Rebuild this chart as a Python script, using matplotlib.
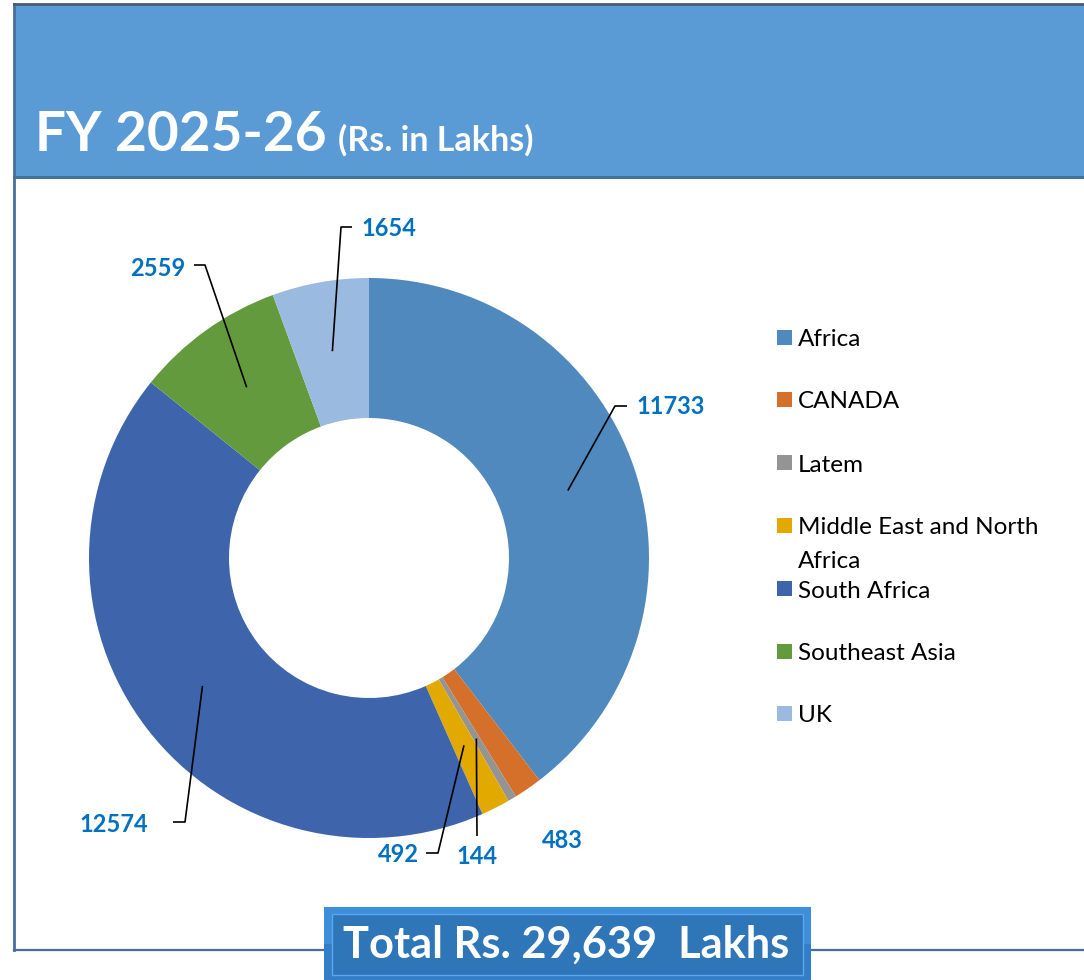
import matplotlib
matplotlib.use("Agg")
import matplotlib.pyplot as plt
import matplotlib.patches as mpatches
import numpy as np

# ---- data ----
categories = ["Africa", "CANADA", "Latem", "Middle East and North Africa",
              "South Africa", "Southeast Asia", "UK"]
legend_labels = ["Africa", "CANADA", "Latem", "Middle East and North\nAfrica",
                 "South Africa", "Southeast Asia", "UK"]
values = [11733, 483, 144, 492, 12574, 2559, 1654]
colors = ["#4F89BD", "#D5702B", "#949494", "#E2AA00", "#3E64AC", "#629A3D", "#9ABAE0"]
title_main = "FY 2025-26"
title_sub = "(Rs. in Lakhs)"
total_text = "Total Rs. 29,639  Lakhs"

FONT = ["Lato", "DejaVu Sans"]
plt.rcParams["font.family"] = FONT

W, H = 1084, 980
fig = plt.figure(figsize=(W / 100, H / 100), dpi=100)
ax = fig.add_axes([0, 0, 1, 1])

def Y(y):  # image y (top-down) -> data y (bottom-up)
    return H - y

# ---- frame & header ----
ax.add_patch(mpatches.Rectangle((14, Y(177)), W - 14, 173, facecolor="#5B9BD5",
                                edgecolor="none", zorder=1))
ax.plot([14, W], [Y(177), Y(177)], color="#41719C", lw=2.2, zorder=2)
ax.plot([14, 14], [Y(4), Y(950)], color="#4A6E9A", lw=2, zorder=2)
ax.plot([14, W], [Y(4), Y(4)], color="#4A5A70", lw=2, zorder=2)
ax.plot([14, W], [Y(950), Y(950)], color="#4A6E9A", lw=1.6, zorder=2)

ax.text(35, Y(151), title_main, color="white", fontsize=39.5, fontweight="bold",
        va="baseline", ha="left", zorder=3)
ax.text(338, Y(151), title_sub, color="white", fontsize=24.5, fontweight="bold",
        va="baseline", ha="left", zorder=3)

# ---- donut ----
cx, cy, R = 369, Y(558), 280
wedges, _ = ax.pie(values, colors=colors, startangle=90, counterclock=False,
                   radius=R, center=(cx, cy),
                   wedgeprops=dict(width=R * 0.5, edgecolor="none"))
for w in wedges:
    w.set_zorder(3)

# data labels with leader lines: label anchor, elbow, end of horizontal tick (image px)
label_pos = {
    "Africa": ((636, 407), (615, 406), (627, 406), "left"),
    "CANADA": ((562, 840), None, None, "center"),
    "Latem": ((477, 857), (477, 836), None, "center"),
    "Middle East and North Africa": ((419, 855), (438, 853), (426, 853), "right"),
    "South Africa": ((148, 825), (185, 822), (173, 822), "right"),
    "Southeast Asia": ((185, 269), (205, 265), (194, 265), "right"),
    "UK": ((361, 228), (341, 227), (352, 227), "left"),
}
total = sum(values)
cum = 0
for name, v in zip(categories, values):
    mid = 90 - 360 * (cum + v / 2) / total
    cum += v
    (lx, ly), elbow, end, ha = label_pos[name]
    sx = cx + 0.75 * R * np.cos(np.radians(mid))
    sy = cy + 0.75 * R * np.sin(np.radians(mid))
    if elbow is not None:
        xs = [sx, elbow[0]]
        ys = [sy, Y(elbow[1])]
        if end is not None:
            xs.append(end[0]); ys.append(Y(end[1]))
        ax.plot(xs, ys, color="black", lw=1.2, zorder=4, solid_capstyle="butt")
    ax.text(lx, Y(ly), f"{v}", color="#0070C0", fontsize=17, fontweight="bold",
            ha=ha, va="center", zorder=5)

# ---- legend ----
leg_y = [338, 400, 463, 526, 589, 652, 714]
for lab, col, yy in zip(legend_labels, colors, leg_y):
    ax.add_patch(mpatches.Rectangle((777, Y(yy) - 7.5), 15, 15, facecolor=col,
                                    edgecolor="none", zorder=3))
    lines = lab.split("\n")
    for k, line in enumerate(lines):
        ax.text(798, Y(yy + 2 + 33 * k), line, color="black", fontsize=17.5,
                ha="left", va="center", zorder=3)

# ---- total box ----
ax.add_patch(mpatches.Rectangle((324, Y(980)), 487, 73, facecolor="#3D8FDB",
                                edgecolor="none", zorder=6))
ax.add_patch(mpatches.Rectangle((324, Y(980)), 487, 36, facecolor="#2F74BC",
                                edgecolor="none", zorder=6, alpha=0.6))
ax.add_patch(mpatches.Rectangle((332, Y(975)), 471, 61, facecolor="#2F76B8",
                                edgecolor="#5AA8EC", lw=1, zorder=7))
ax.text(566, Y(945), total_text, color="white", fontsize=31.2, fontweight="bold",
        ha="center", va="center", zorder=8)

ax.set_xlim(0, W)
ax.set_ylim(0, H)
ax.set_aspect("equal")
ax.axis("off")

fig.savefig("out.png", dpi=100, facecolor="white")
